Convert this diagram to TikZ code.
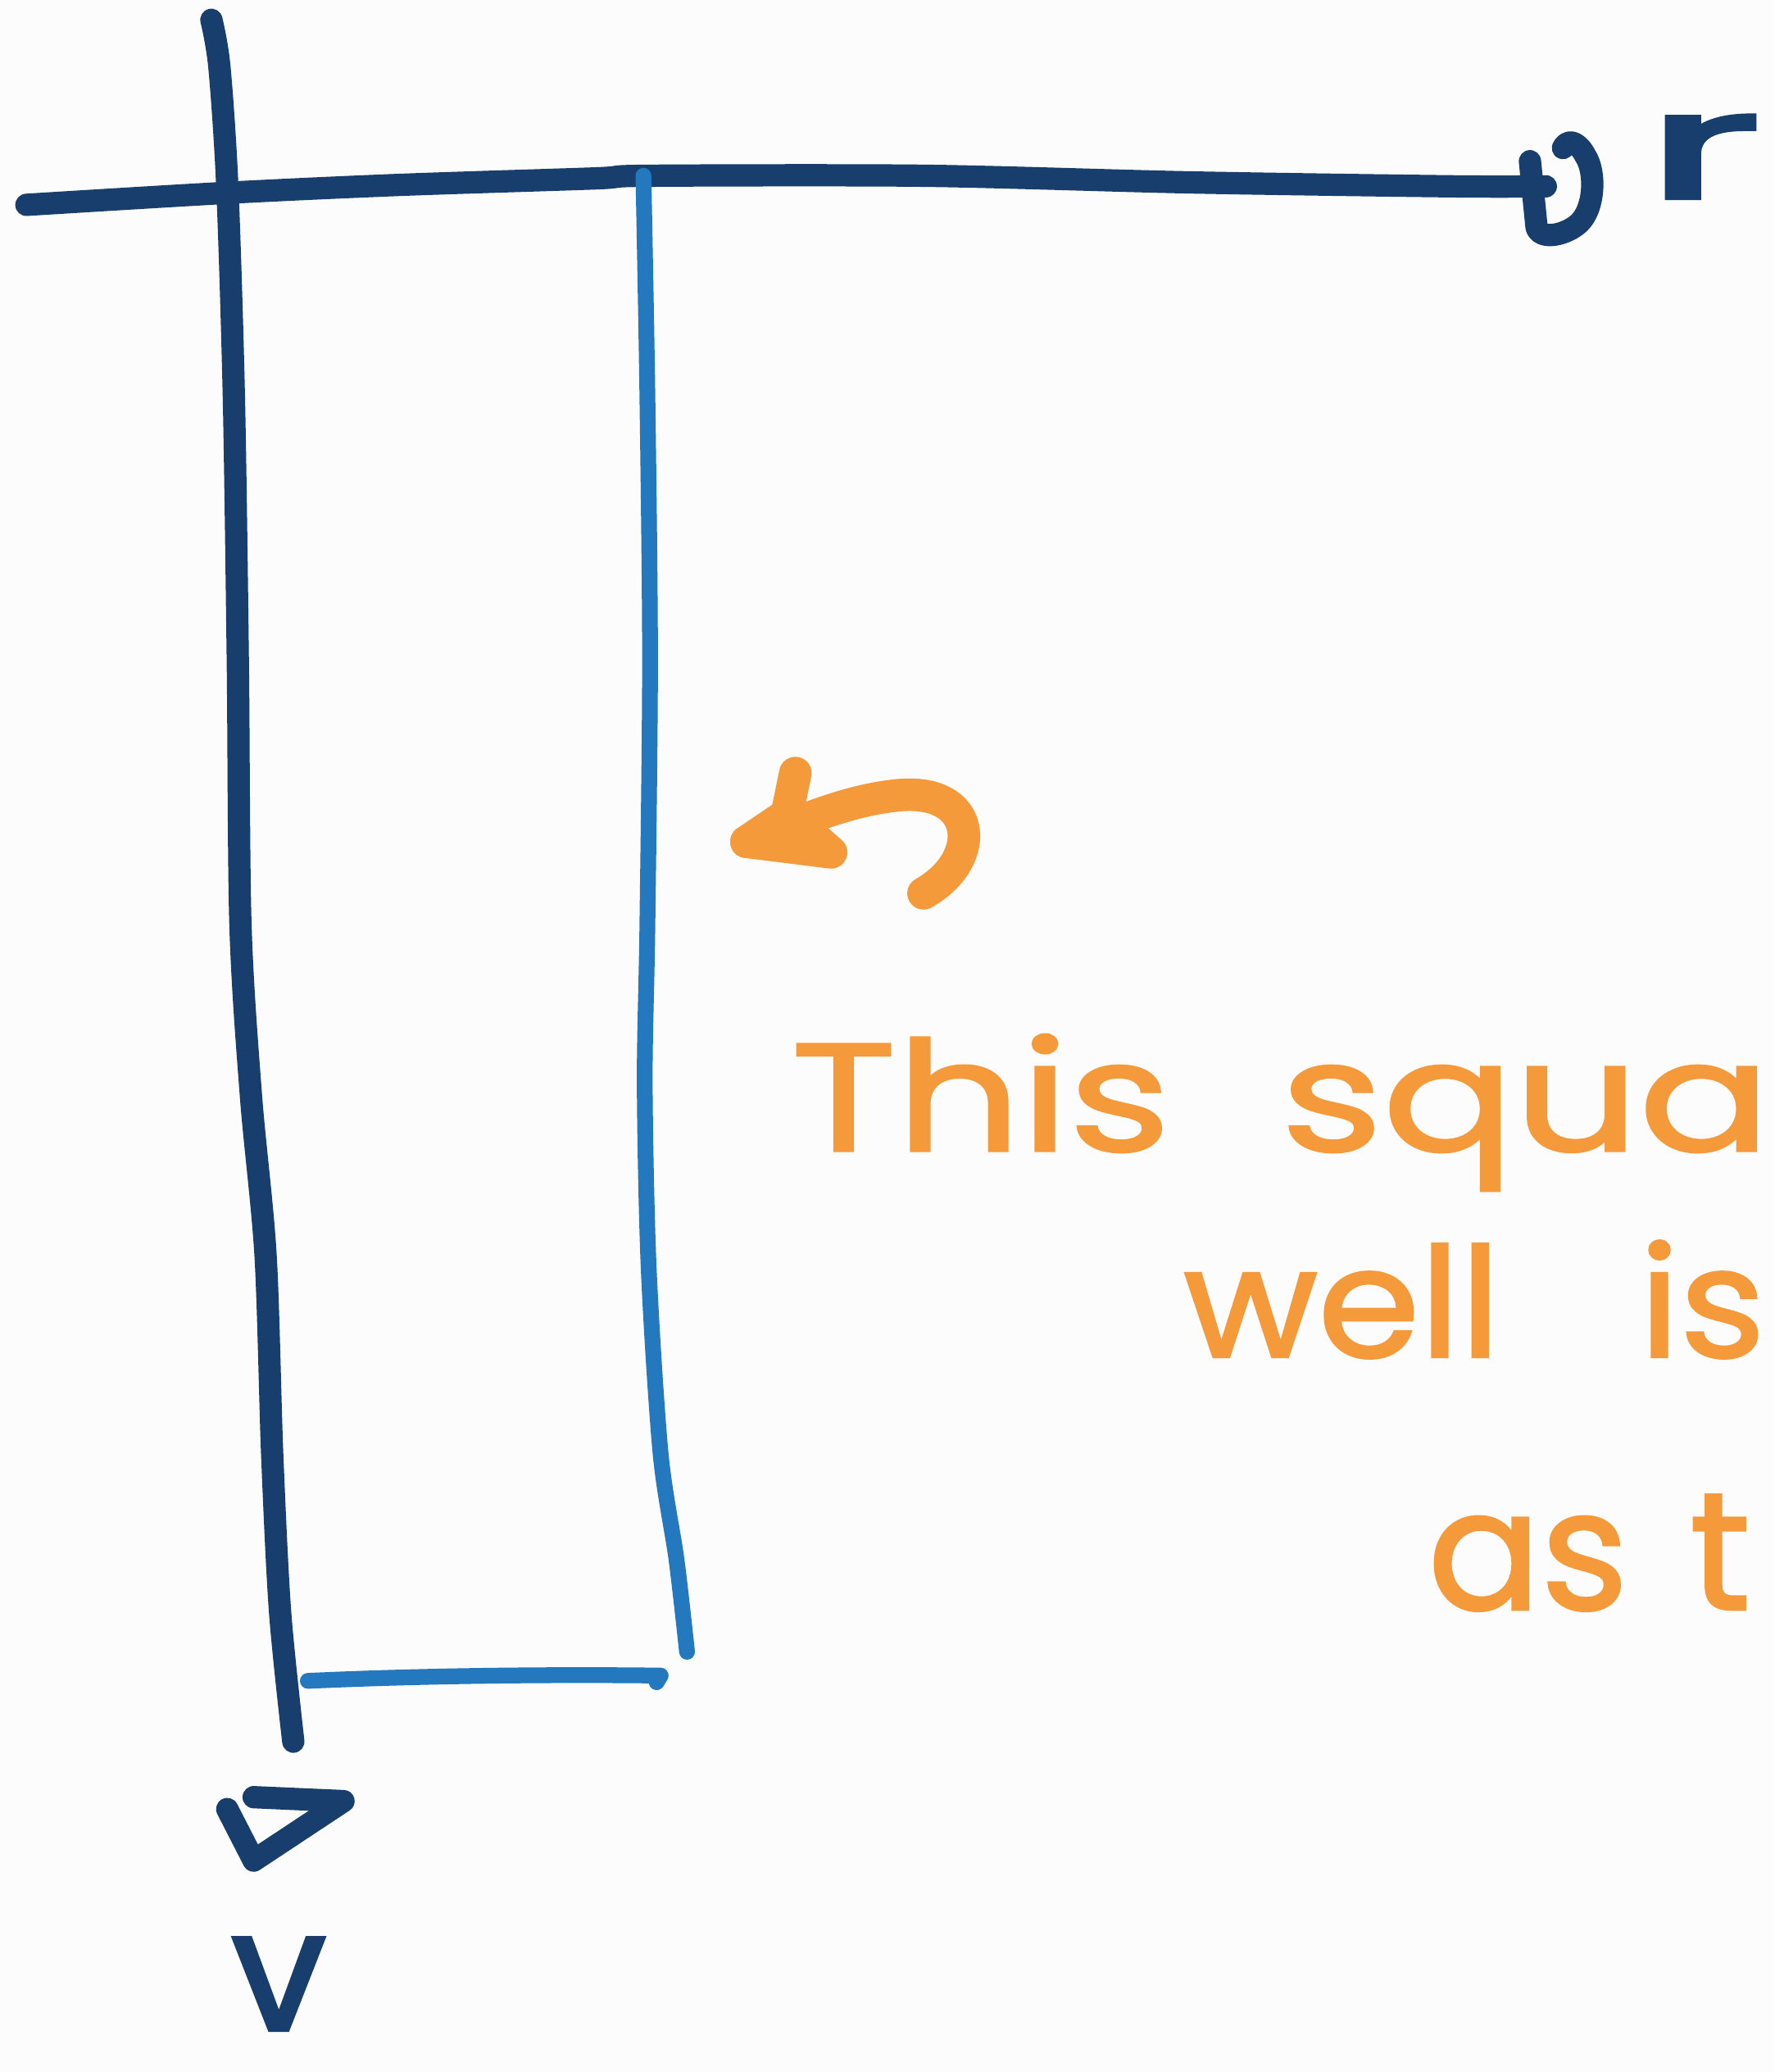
\documentclass[tikz,border=0pt]{standalone}
\usepackage{fontspec}
\newfontfamily\hand[FakeBold=1.5]{Poppins}
\newfontfamily\handlbl[FakeBold=2.5]{Poppins}
\definecolor{navy}{HTML}{173E6C}
\definecolor{lblue}{HTML}{2479BE}
\definecolor{orng}{HTML}{F59A3B}
\definecolor{paper}{HTML}{FCFCFC}
\begin{document}
\begin{tikzpicture}[x=0.01cm,y=-0.01cm,
  axis/.style={draw=navy,line width=4.8pt,line cap=round,line join=round},
  boxline/.style={draw=lblue,line width=3.4pt,line cap=round,line join=round},
  note/.style={draw=orng,line width=7pt,line cap=round,line join=round},
  lbl/.style={text=navy,inner sep=0pt},
  notetext/.style={text=orng,inner sep=0pt,anchor=base west}]
\fill[paper] (0,0) rectangle (1343,1568);
\useasboundingbox (0,0) rectangle (1343,1568);
\clip (0,0) rectangle (1343,1568);

% vertical axis
\coordinate (vtop) at (160,15);
\coordinate (vbot) at (222,1318);
\draw[axis] plot[smooth,tension=0.5] coordinates {(vtop) (166,50) (172,140) (177,300) (180,500) (182,700) (190,830) (201,950) (206,1100) (212,1220) (vbot)};
% horizontal axis
\coordinate (hleft) at (20,155);
\coordinate (hright) at (1170,141);
\draw[axis] plot[smooth,tension=0.5] coordinates {(hleft) (170,146) (300,140) (450,135) (490,133) (700,133) (900,138) (1100,141) (hright)};
% right arrowhead
\draw[axis] (1158,122) -- (1163,172) .. controls (1166,182) and (1185,178) .. (1195,169)
  .. controls (1207,158) and (1208,130) .. (1200,118) .. controls (1195,108) and (1187,104) .. (1183,112);
% bottom arrowhead
\coordinate (btip) at (192,1408);
\draw[axis] (172,1369) -- (btip) -- (260,1363) -- (192,1360);

% labels
\node[lbl,anchor=base,font=\handlbl\fontsize{32}{36}\selectfont] (rlab) at (1289,150) {\scalebox{2.1}[1.0]{r}};
\node[lbl,anchor=base,font=\handlbl\fontsize{36}{40}\selectfont] (vlab) at (211,1536) {v};

% light blue box
\coordinate (btop) at (487,133);
\coordinate (bbot) at (520,1250);
\draw[boxline] plot[smooth,tension=0.5] coordinates {(btop) (490,300) (492,500) (490,700) (488,820) (491,960) (500,1100) (512,1180) (bbot)};
\coordinate (bl) at (233,1272);
\coordinate (br) at (500,1268);
\draw[boxline] (bl) .. controls (320,1268) and (420,1267) .. (br) -- (497,1273);

% orange arrow
\coordinate (otail) at (699,676);
\coordinate (otip) at (565,637);
\draw[note] (otail) .. controls (745,650) and (740,595) .. (678,602) .. controls (640,606) and (605,622) .. (otip);
\draw[note] (602,585) -- (596,614);
\filldraw[note,fill=orng] (otip) -- (596,616) -- (629,645) -- cycle;

% orange text
\node[notetext,font=\hand\fontsize{33}{40}\selectfont] (t1) at (598,871) {\scalebox{1.27}[1]{This\hspace{0.3em} squa}};
\node[notetext,font=\hand\fontsize{33}{40}\selectfont] (t2) at (895,1027) {\scalebox{1.07}[1]{well\hspace{0.58em} is}};
\node[notetext,font=\hand\fontsize{36}{40}\selectfont] (t3) at (1080,1218) {as\hspace{0.1em} t};
\end{tikzpicture}
\end{document}
